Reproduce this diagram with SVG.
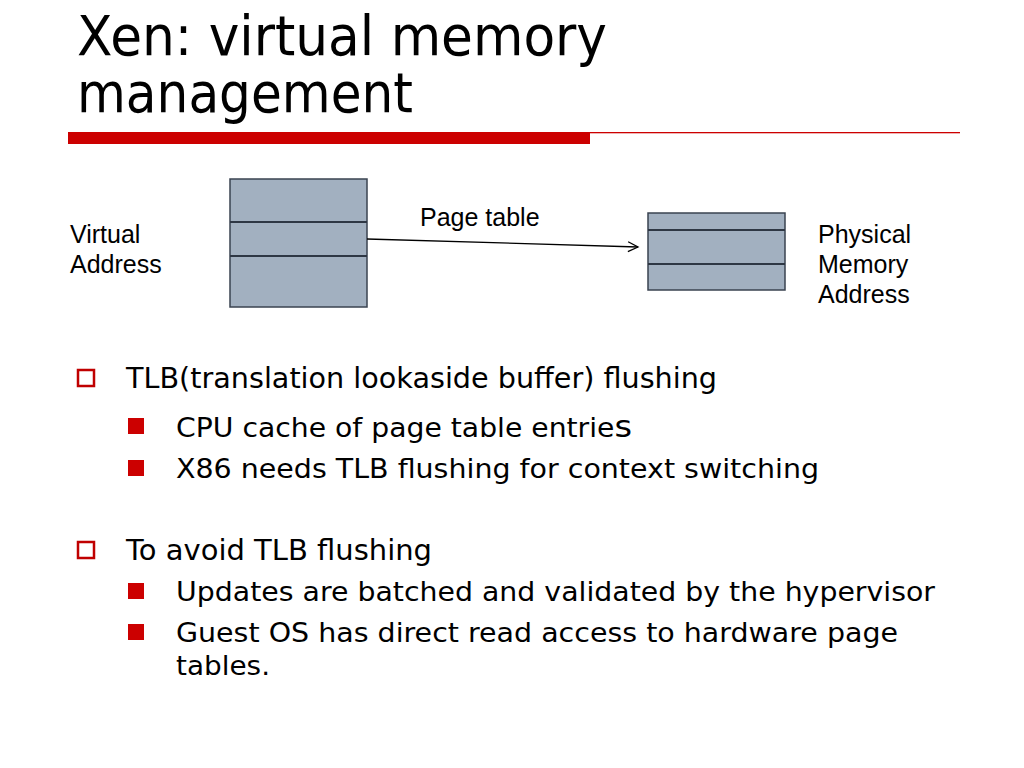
<svg xmlns="http://www.w3.org/2000/svg" width="1024" height="768" viewBox="0 0 1024 768">
<defs>
<style>
.title{font-family:"DejaVu Sans","Liberation Sans",sans-serif;font-size:56px;fill:#000}
.l1{font-family:"DejaVu Sans","Liberation Sans",sans-serif;font-size:28px;fill:#000}
.l2{font-family:"DejaVu Sans","Liberation Sans",sans-serif;font-size:26px;fill:#000}
.lab{font-family:"Liberation Sans",Arial,sans-serif;font-size:25px;fill:#000}
.box{fill:#a2b0c0;stroke:#3a4350;stroke-width:1.5}
.div{stroke:#2e3744;stroke-width:2}
.hb{fill:none;stroke:#c00000;stroke-width:2.5}
.fb{fill:#cc0000}
</style>
<marker id="arr" markerWidth="14" markerHeight="14" refX="11" refY="6" orient="auto" markerUnits="userSpaceOnUse">
<path d="M1,1 L11,6 L1,11" fill="none" stroke="#000" stroke-width="1.3"/>
</marker>
</defs>
<rect width="1024" height="768" fill="#fff"/>
<g id="title">
<text class="title" x="77" y="55" textLength="530" lengthAdjust="spacingAndGlyphs">Xen: virtual memory</text>
<text class="title" x="77" y="112" textLength="336" lengthAdjust="spacingAndGlyphs">management</text>
<rect x="68" y="132" width="522" height="12" fill="#cc0000"/>
<rect x="590" y="132" width="370" height="1.3" fill="#cc0000"/>
</g>
<g id="virtual-address">
<text class="lab" x="70" y="243">Virtual</text>
<text class="lab" x="70" y="273">Address</text>
</g>
<g id="page-table-left">
<rect class="box" x="230" y="179" width="137" height="128"/>
<line class="div" x1="230" y1="222" x2="367" y2="222"/>
<line class="div" x1="230" y1="256" x2="367" y2="256"/>
</g>
<g id="page-table-label">
<text class="lab" x="420" y="226">Page table</text>
</g>
<g id="physical-box">
<rect class="box" x="648" y="213" width="137" height="77"/>
<line class="div" x1="648" y1="230" x2="785" y2="230"/>
<line class="div" x1="648" y1="264" x2="785" y2="264"/>
</g>
<g id="physical-label">
<text class="lab" x="818" y="243">Physical</text>
<text class="lab" x="818" y="273">Memory</text>
<text class="lab" x="818" y="303">Address</text>
</g>
<g id="connectors">
<line x1="367" y1="239" x2="638" y2="247" stroke="#000" stroke-width="1.3" marker-end="url(#arr)"/>
</g>
<g id="bullets">
<rect class="hb" x="78" y="370" width="16" height="16"/>
<text class="l1" x="126" y="388" textLength="591" lengthAdjust="spacingAndGlyphs">TLB(translation lookaside buffer) flushing</text>
<rect class="fb" x="128" y="418" width="16" height="16"/>
<text class="l2" x="176" y="437" textLength="456" lengthAdjust="spacingAndGlyphs">CPU cache of page table entrie<tspan font-size="31">s</tspan></text>
<rect class="fb" x="128" y="460" width="16" height="16"/>
<text class="l2" x="176" y="478" textLength="643" lengthAdjust="spacingAndGlyphs">X86 needs TLB flushing for context switching</text>
<rect class="hb" x="78" y="542" width="16" height="16"/>
<text class="l1" x="126" y="560" textLength="306" lengthAdjust="spacingAndGlyphs">To avoid TLB flushing</text>
<rect class="fb" x="128" y="583" width="16" height="16"/>
<text class="l2" x="176" y="601" textLength="759" lengthAdjust="spacingAndGlyphs">Updates are batched and validated by the hypervisor</text>
<rect class="fb" x="128" y="624" width="16" height="16"/>
<text class="l2" x="176" y="642" textLength="722" lengthAdjust="spacingAndGlyphs">Guest OS has direct read access to hardware page</text>
<text class="l2" x="176" y="675" textLength="94" lengthAdjust="spacingAndGlyphs">tables.</text>
</g>
</svg>
